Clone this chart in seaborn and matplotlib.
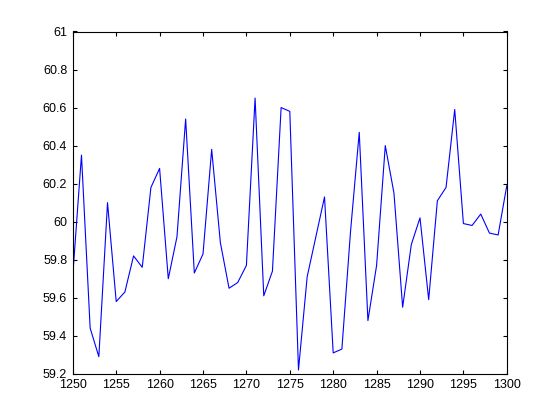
import pandas as pd
import matplotlib.pyplot as plt
import seaborn as sns

# values, one per step
steps = list(range(1250, 1301))
values = [59.72, 60.35, 59.44, 59.29, 60.10, 59.58, 59.63, 59.82, 59.76, 60.18,
          60.28, 59.70, 59.92, 60.54, 59.73, 59.83, 60.38, 59.89, 59.65, 59.68,
          59.77, 60.65, 59.61, 59.74, 60.60, 60.58, 59.22, 59.71, 59.92, 60.13,
          59.31, 59.33, 59.95, 60.47, 59.48, 59.77, 60.40, 60.15, 59.55, 59.88,
          60.02, 59.59, 60.11, 60.18, 60.59, 59.99, 59.98, 60.04, 59.94, 59.93,
          60.19]
x_ticks = list(range(1250, 1301, 5))
y_ticks = [59.2, 59.4, 59.6, 59.8, 60.0, 60.2, 60.4, 60.6, 60.8, 61.0]
y_labels = ['59.2', '59.4', '59.6', '59.8', '60', '60.2', '60.4', '60.6', '60.8', '61']

df = pd.DataFrame({'step': steps, 'value': values})

sns.set_style('ticks')
plt.rcParams['font.family'] = ['Liberation Sans', 'DejaVu Sans']

fig = plt.figure(figsize=(5.6, 4.2), dpi=100, facecolor='white')
ax = fig.add_axes([0.13, 0.11, 0.775, 0.815])

sns.lineplot(data=df, x='step', y='value', color='#0000ff', linewidth=0.8, ax=ax)

ax.set_xlim(1250, 1300)
ax.set_ylim(59.2, 61)
ax.set_xticks(x_ticks)
ax.set_yticks(y_ticks)
ax.set_yticklabels(y_labels)
ax.set_xlabel('')
ax.set_ylabel('')
ax.tick_params(direction='in', length=3, width=0.8, top=True, right=True,
               labelsize=9, colors='black', pad=4)
for side in ['top', 'right', 'bottom', 'left']:
    ax.spines[side].set_visible(True)
    ax.spines[side].set_color('black')
    ax.spines[side].set_linewidth(0.8)

fig.savefig('out.png', dpi=100, facecolor='white')
